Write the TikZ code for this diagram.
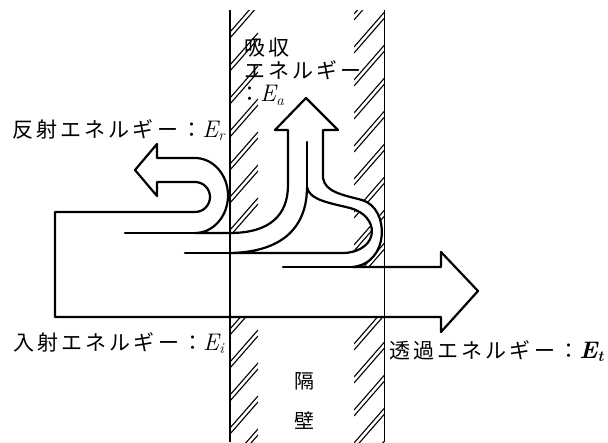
\documentclass[tikz,border=0pt]{standalone}
\usepackage{fontspec}
\newfontfamily\jpsp{Noto Sans CJK JP}[LetterSpace=15]
\newfontfamily\jp{Noto Sans CJK JP}
\newcommand\Ener[1]{{\rmfamily\itshape\fontsize{24}{24}\selectfont E\kern0.3pt\raisebox{-0.35ex}{\fontsize{15}{15}\selectfont #1}}}
\tikzset{
  flow/.style={line width=2.2pt, line join=round, line cap=round},
  wallline/.style={line width=1.3pt},
  hatchline/.style={line width=1.1pt},
  lbl/.style={anchor=west, inner sep=0pt, font=\jpsp\fontsize{21}{24}\selectfont},
  wlbl/.style={inner sep=0pt, font=\jp\fontsize{20}{24}\selectfont},
}
\begin{document}
\begin{tikzpicture}[x=1pt,y=-1pt]
\useasboundingbox (0,0) rectangle (608,442);
% hatching of the wall
\begin{scope}
  \clip (230,10) rectangle (258,442);
  \foreach \k in {-1,...,14} {
    \draw[hatchline] (230,{\k*33+32}) -- (258,{\k*33});
    \draw[hatchline] (230,{\k*33+38}) -- (258,{\k*33+6});
  }
\end{scope}
\begin{scope}
  \clip (354,10) rectangle (384.5,442);
  \foreach \k in {-1,...,14} {
    \draw[hatchline] (354,{\k*33+47}) -- (384.5,{\k*33+12});
    \draw[hatchline] (354,{\k*33+53}) -- (384.5,{\k*33+18});
  }
\end{scope}
% energy flow outline (with enclosed pocket left open)
\filldraw[flow, fill=white, even odd rule]
  (55,317) -- (55,212) -- (195,212)
  .. controls (203.3,212) and (210,205.3) .. (210,197)
  .. controls (210,188.7) and (203.3,182) .. (195,182)
  -- (157,182) -- (157,196) -- (135,170) -- (157,144) -- (157,158) -- (195,158)
  .. controls (213.2,158) and (228,174.8) .. (228,195.5)
  .. controls (228,216.2) and (213.2,233) .. (195,233)
  -- (230,233)
  .. controls (270,233) and (288,215) .. (288,185)
  -- (288,130) -- (275,130) -- (306,98) -- (338,130) -- (323,130) -- (323,178)
  .. controls (325,192) and (343,195) .. (362,200)
  .. controls (390,208) and (390,264) .. (352,267)
  -- (441,267) -- (441,252) -- (478,291) -- (441,332) -- (441,317) -- cycle
  (230,253) .. controls (285,252) and (307,225) .. (307,187)
  .. controls (309,200) and (330,203) .. (350,208)
  .. controls (380,216) and (380,250) .. (345,253) -- cycle;
% wall faces
\draw[wallline] (230,10) -- (230,442);
\draw[line width=1.8pt] (384.5,10) -- (384.5,442);
% inner dividing lines
\draw[flow] (125,233) -- (230,233);
\draw[flow] (185,253) -- (345,253);
\draw[flow] (307,187) -- (307,142);
\draw[flow] (283,267) -- (352,267);
% labels
\node[lbl] (lr) at (12,130) {反射エネルギー：\Ener{r}};
\node[lbl, anchor=north west, align=left, font=\jpsp\fontsize{21}{23}\selectfont] (la) at (244,38)
  {吸収\\エネルギー\\\hspace*{-5pt}：\Ener{a}};
\node[lbl] (li) at (13,343) {入射エネルギー：\Ener{i}};
\node[lbl] (lt) at (389,351) {透過エネルギー：{\bfseries\Ener{t}}};
\node[wlbl] (w1) at (304,381) {隔};
\node[wlbl] (w2) at (304,421) {壁};
\end{tikzpicture}
\end{document}
